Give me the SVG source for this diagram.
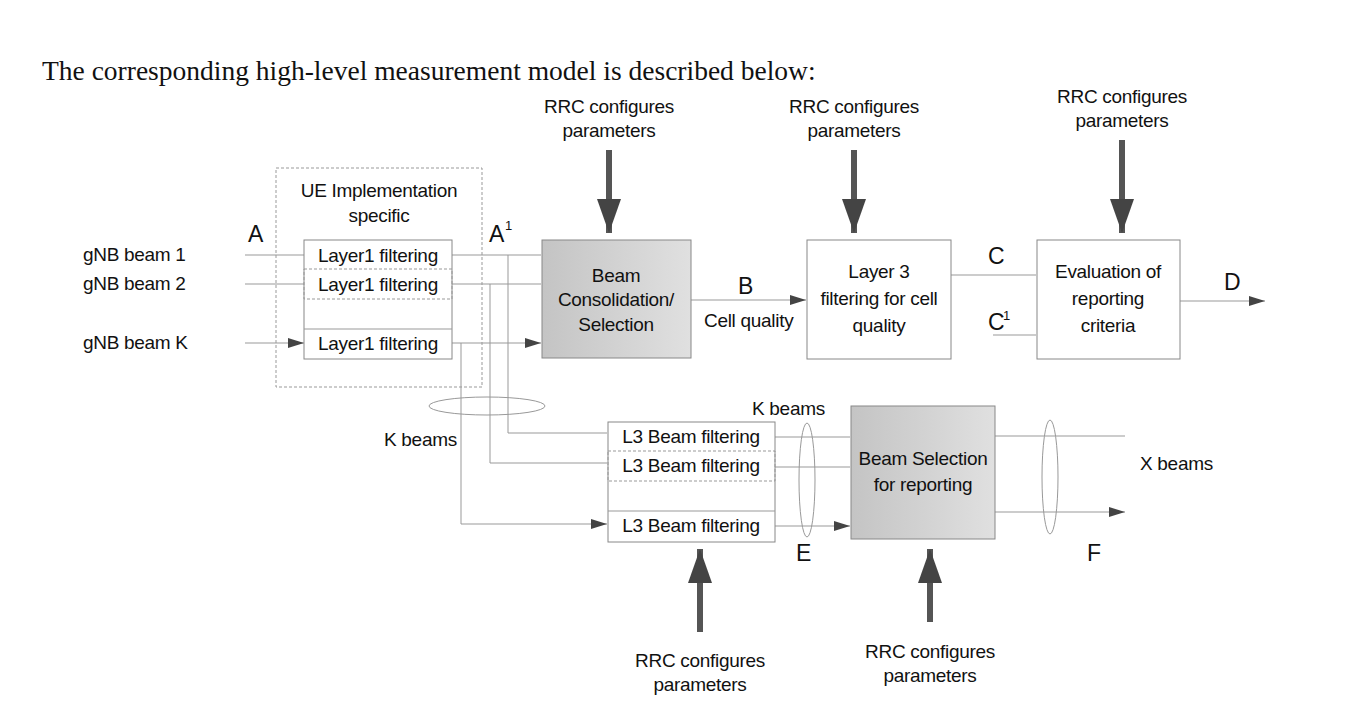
<svg xmlns="http://www.w3.org/2000/svg" width="1356" height="716" viewBox="0 0 1356 716">
<style>
text{font-family:"Liberation Sans",Arial,sans-serif;font-size:19px;fill:#111;letter-spacing:-0.3px}
.c{text-anchor:middle}
.big{font-size:23px}
.box{fill:#fff;stroke:#888;stroke-width:1}
.ln{fill:none;stroke:#999;stroke-width:1}
.dash{fill:none;stroke:#999;stroke-dasharray:3,2}
.fat{stroke:#555;stroke-width:6}
</style>
<defs>
<marker id="ah" markerWidth="16" markerHeight="10" refX="16" refY="5" orient="auto" markerUnits="userSpaceOnUse" viewBox="0 0 16 10"><path d="M0,0L16,5L0,10z" fill="#444"/></marker>
<marker id="big" markerWidth="34" markerHeight="24" refX="34" refY="12" orient="auto" markerUnits="userSpaceOnUse" viewBox="0 0 34 24"><path d="M0,0L34,12L0,24z" fill="#444"/></marker>
<linearGradient id="g" x1="0" x2="1"><stop offset="0" stop-color="#c4c4c4"/><stop offset="1" stop-color="#e0e0e0"/></linearGradient>
</defs>
<text x="42" y="80" style="font-family:'Liberation Serif',serif;font-size:27.5px;letter-spacing:0">The corresponding high-level measurement model is described below:</text>
<g id="connectors">
<path class="ln" marker-end="url(#ah)" d="M245,255H304M245,284H304M245,343H304"/>
<path class="ln" marker-end="url(#ah)" d="M452,255H541M452,284H541M452,343H541"/>
<path class="ln" marker-end="url(#ah)" d="M508,255V433H607M490,284V463H607M461,343V524H607"/>
<path class="ln" marker-end="url(#ah)" d="M691,300H806"/>
<path class="ln" marker-end="url(#ah)" d="M951,275H1036M993,335H1036M1180,301H1265"/>
<path class="ln" marker-end="url(#ah)" d="M775,437H850M775,467H850M775,526H850"/>
<path class="ln" marker-end="url(#ah)" d="M995,436H1125M995,512H1125"/>
<ellipse class="ln" cx="487" cy="406" rx="58" ry="9"/>
<ellipse class="ln" cx="807" cy="480" rx="8" ry="57"/>
<ellipse class="ln" cx="1050" cy="477" rx="8" ry="57"/>
<line class="fat" x1="609" y1="150" x2="609" y2="233" marker-end="url(#big)"/>
<line class="fat" x1="854" y1="150" x2="854" y2="233" marker-end="url(#big)"/>
<line class="fat" x1="1122" y1="140" x2="1122" y2="233" marker-end="url(#big)"/>
<line class="fat" x1="700" y1="632" x2="700" y2="549" marker-end="url(#big)"/>
<line class="fat" x1="930" y1="622" x2="930" y2="549" marker-end="url(#big)"/>
</g>
<g id="ue">
<rect class="dash" x="276" y="168" width="206" height="219"/>
<text class="c" x="379" y="197">UE Implementation</text>
<text class="c" x="379" y="222">specific</text>
</g>
<g id="layer1">
<rect class="box" x="304" y="240" width="148" height="119"/>
<rect class="dash" x="304" y="269" width="148" height="30"/>
<line class="ln" x1="304" y1="329" x2="452" y2="329"/>
<text class="c" x="378" y="262">Layer1 filtering</text>
<text class="c" x="378" y="291">Layer1 filtering</text>
<text class="c" x="378" y="350">Layer1 filtering</text>
</g>
<g id="inputs">
<text x="83" y="261">gNB beam 1</text>
<text x="83" y="290">gNB beam 2</text>
<text x="83" y="349">gNB beam K</text>
<text class="big" x="248" y="242">A</text>
<text class="big" x="489" y="242">A</text><text x="505" y="230" style="font-size:13px">1</text>
</g>
<g id="consol">
<rect x="542" y="240" width="149" height="118" fill="url(#g)" stroke="#888"/>
<text class="c" x="616" y="282">Beam</text>
<text class="c" x="616" y="306">Consolidation/</text>
<text class="c" x="616" y="331">Selection</text>
</g>
<g id="l3cell">
<rect class="box" x="807" y="240" width="144" height="119"/>
<text class="c" x="879" y="278">Layer 3</text>
<text class="c" x="879" y="305">filtering for cell</text>
<text class="c" x="879" y="332">quality</text>
</g>
<g id="eval">
<rect class="box" x="1037" y="240" width="143" height="119"/>
<text class="c" x="1108" y="278">Evaluation of</text>
<text class="c" x="1108" y="305">reporting</text>
<text class="c" x="1108" y="332">criteria</text>
</g>
<g id="labels">
<text class="big" x="738" y="294">B</text>
<text x="704" y="327">Cell quality</text>
<text class="big" x="988" y="264">C</text>
<text class="big" x="988" y="330">C</text><text x="1003" y="320" style="font-size:13px">1</text>
<text class="big" x="1224" y="290">D</text>
<text x="384" y="446">K beams</text>
<text x="752" y="415">K beams</text>
<text x="1140" y="470">X beams</text>
<text class="big" x="796" y="561">E</text>
<text class="big" x="1087" y="561">F</text>
</g>
<g id="l3beam">
<rect class="box" x="608" y="422" width="167" height="120"/>
<rect class="dash" x="608" y="451" width="167" height="30"/>
<line class="ln" x1="608" y1="511" x2="775" y2="511"/>
<text class="c" x="691" y="443">L3 Beam filtering</text>
<text class="c" x="691" y="472">L3 Beam filtering</text>
<text class="c" x="691" y="532">L3 Beam filtering</text>
</g>
<g id="beamsel">
<rect x="851" y="406" width="144" height="133" fill="url(#g)" stroke="#888"/>
<text class="c" x="923" y="465">Beam Selection</text>
<text class="c" x="923" y="491">for reporting</text>
</g>
<g id="rrc">
<text class="c" x="609" y="113">RRC configures</text><text class="c" x="609" y="137">parameters</text>
<text class="c" x="854" y="113">RRC configures</text><text class="c" x="854" y="137">parameters</text>
<text class="c" x="1122" y="103">RRC configures</text><text class="c" x="1122" y="127">parameters</text>
<text class="c" x="700" y="667">RRC configures</text><text class="c" x="700" y="691">parameters</text>
<text class="c" x="930" y="658">RRC configures</text><text class="c" x="930" y="682">parameters</text>
</g>
</svg>
